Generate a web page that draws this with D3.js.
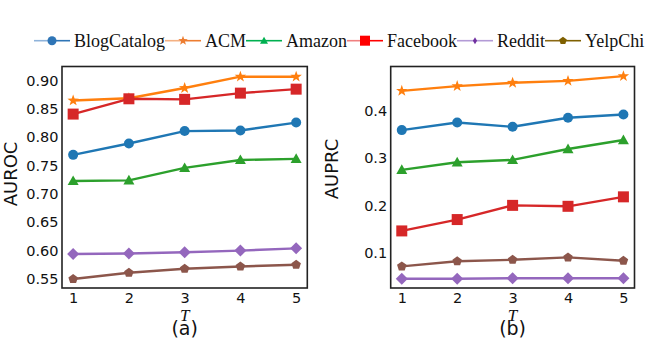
<!DOCTYPE html>
<html><head><meta charset="utf-8">
<script src="https://cdn.jsdelivr.net/npm/d3@7"></script>
<style>body{margin:0;background:#fff}svg{display:block}</style>
</head><body>
<svg id="c" width="665" height="356"></svg>
<script>
const T = [1, 2, 3, 4, 5];
const seriesNames = ["BlogCatalog", "ACM", "Amazon", "Facebook", "Reddit", "YelpChi"];
const aurocBlogCatalog = [0.769, 0.789, 0.811, 0.812, 0.826];
const aurocACM = [0.865, 0.869, 0.887, 0.907, 0.907];
const aurocAmazon = [0.723, 0.724, 0.746, 0.760, 0.762];
const aurocFacebook = [0.841, 0.868, 0.867, 0.878, 0.885];
const aurocReddit = [0.594, 0.595, 0.597, 0.600, 0.604];
const aurocYelpChi = [0.550, 0.561, 0.568, 0.572, 0.575];
const auprcBlogCatalog = [0.359, 0.375, 0.366, 0.385, 0.392];
const auprcACM = [0.442, 0.452, 0.459, 0.463, 0.473];
const auprcAmazon = [0.275, 0.291, 0.296, 0.319, 0.338];
const auprcFacebook = [0.146, 0.170, 0.200, 0.198, 0.218];
const auprcReddit = [0.045, 0.045, 0.046, 0.046, 0.046];
const auprcYelpChi = [0.071, 0.082, 0.085, 0.090, 0.083];
const aurocTicks = [0.55, 0.60, 0.65, 0.70, 0.75, 0.80, 0.85, 0.90];
const auprcTicks = [0.1, 0.2, 0.3, 0.4];

const plotColors = ["#1f77b4", "#ff7f0e", "#2ca02c", "#d62728", "#9467bd", "#8c564b"];
const legendColors = ["#2e75b6", "#ed7d31", "#00b050", "#ff0000", "#7030a0", "#7f6000"];
const legendLight = ["#8fb3da", "#f4b183", "#00b050", "#f08080", "#b39bd6", "#8b6914"];
const shapes = ["circle", "star", "triangle", "square", "diamond", "pentagon"];
const SERIF = "'Liberation Serif', 'Times New Roman', 'DejaVu Serif', serif";
const SANS = "'DejaVu Sans', sans-serif";

const svg = d3.select("#c");

function polyPath(pts) { return "M" + pts.map(p => p.map(v => v.toFixed(2)).join(",")).join("L") + "Z"; }
function shapePath(shape, s) {
  const r = s / 2;
  if (shape === "circle") return d3.symbol(d3.symbolCircle, Math.PI * r * r)();
  if (shape === "star") {
    const pts = [];
    for (let i = 0; i < 10; i++) {
      const a = -Math.PI / 2 + i * Math.PI / 5, rr = i % 2 ? r * 0.4 : r;
      pts.push([rr * Math.cos(a), rr * Math.sin(a)]);
    }
    return polyPath(pts);
  }
  if (shape === "triangle") return polyPath([[0, -r], [r, r * 0.75], [-r, r * 0.75]]);
  if (shape === "square") return polyPath([[-r, -r], [r, -r], [r, r], [-r, r]]);
  if (shape === "diamond") return polyPath([[0, -r], [r, 0], [0, r], [-r, 0]]);
  if (shape === "pentagon") {
    const pts = [];
    for (let i = 0; i < 5; i++) { const a = -Math.PI / 2 + i * 2 * Math.PI / 5; pts.push([r * Math.cos(a), r * Math.sin(a)]); }
    return polyPath(pts);
  }
}
const markerSize = { circle: 10, star: 12, triangle: 11, square: 11, diamond: 12, pentagon: 10 };

function panel(cfg) {
  const x = d3.scaleLinear().domain([0.8, 5.2]).range([cfg.left, cfg.right]);
  const y = d3.scaleLinear().domain(cfg.yDomain).range([cfg.bottom, cfg.top]);
  const g = svg.append("g");
  const ax = g.append("g").attr("transform", `translate(0,${cfg.bottom})`)
    .call(d3.axisBottom(x).tickValues(T).tickFormat(d3.format("d")).tickSize(0).tickPadding(0));
  ax.select(".domain").remove();
  ax.selectAll("text").attr("dy", null).attr("y", 15)
    .style("font-family", SANS).style("font-size", "14.5px").attr("fill", "#111");
  const ay = g.append("g").attr("transform", `translate(${cfg.left},0)`)
    .call(d3.axisLeft(y).tickValues(cfg.ticks).tickFormat(d3.format(cfg.fmt)).tickSize(0).tickPadding(3.5));
  ay.select(".domain").remove();
  ay.selectAll("text").style("font-family", SANS).style("font-size", "14.5px").attr("fill", "#111");

  const line = d3.line().x((d, i) => x(T[i])).y(d => y(d));
  cfg.series.forEach((vals, si) => {
    const sg = g.append("g");
    sg.append("path").attr("d", line(vals)).attr("fill", "none")
      .attr("stroke", plotColors[si]).attr("stroke-width", 2.4).attr("stroke-linejoin", "round");
    sg.selectAll("path.m").data(vals).join("path").attr("class", "m")
      .attr("transform", (d, i) => `translate(${x(T[i])},${y(d)})`)
      .attr("d", shapePath(shapes[si], markerSize[shapes[si]]))
      .attr("fill", plotColors[si]);
  });
  g.append("rect").attr("x", cfg.left).attr("y", cfg.top)
    .attr("width", cfg.right - cfg.left).attr("height", cfg.bottom - cfg.top)
    .attr("fill", "none").attr("stroke", "#222").attr("stroke-width", 1.6);
  const cx = (cfg.left + cfg.right) / 2;
  g.append("text").attr("transform", `translate(${cfg.yLabelX},${cfg.yLabelY}) rotate(-90)`)
    .attr("text-anchor", "middle").style("font-family", SANS).style("font-size", "18px")
    .attr("fill", "#111").text(cfg.yLabel);
  g.append("text").attr("x", cx).attr("y", 320.5).attr("text-anchor", "middle")
    .style("font-family", SERIF).style("font-style", "italic").style("font-size", "17px")
    .attr("fill", "#111").text("T");
  g.append("text").attr("x", cx).attr("y", 335).attr("text-anchor", "middle")
    .style("font-family", SANS).style("font-size", "19px").attr("fill", "#111").text(cfg.caption);
}

panel({ left: 62, right: 307.3, top: 66.5, bottom: 288, yDomain: [0.534, 0.925], ticks: aurocTicks, fmt: ".2f",
  series: [aurocBlogCatalog, aurocACM, aurocAmazon, aurocFacebook, aurocReddit, aurocYelpChi],
  yLabel: "AUROC", yLabelX: 17, yLabelY: 174, caption: "(a)" });
panel({ left: 390.7, right: 634.5, top: 66.5, bottom: 288, yDomain: [0.0254, 0.4934], ticks: auprcTicks, fmt: ".1f",
  series: [auprcBlogCatalog, auprcACM, auprcAmazon, auprcFacebook, auprcReddit, auprcYelpChi],
  yLabel: "AUPRC", yLabelX: 338, yLabelY: 169, caption: "(b)" });

// legend
const legendMarker = { circle: 9, star: 10, triangle: 8, square: 10, diamond: 7, pentagon: 8 };
const lg = svg.append("g");
let cursor = 34;
const ly = 40.7, L = 36, gap = 4;
seriesNames.forEach((name, i) => {
  const mid = cursor + L / 2;
  lg.append("line").attr("x1", cursor).attr("x2", mid).attr("y1", ly).attr("y2", ly)
    .attr("stroke", legendLight[i]).attr("stroke-width", 1.6);
  lg.append("line").attr("x1", mid).attr("x2", cursor + L).attr("y1", ly).attr("y2", ly)
    .attr("stroke", i === 4 ? legendLight[i] : legendColors[i]).attr("stroke-width", 1.6);
  let tr = `translate(${mid},${ly})`;
  if (shapes[i] === "diamond") tr += " scale(0.6,1)";
  lg.append("path").attr("transform", tr).attr("d", shapePath(shapes[i], legendMarker[shapes[i]]))
    .attr("fill", legendColors[i]);
  const t = lg.append("text").attr("x", cursor + L + gap).attr("y", 46.5)
    .style("font-family", SERIF).style("font-size", "18px").attr("fill", "#111").text(name);
  cursor = cursor + L + gap + t.node().getComputedTextLength();
});
</script>
</body></html>
